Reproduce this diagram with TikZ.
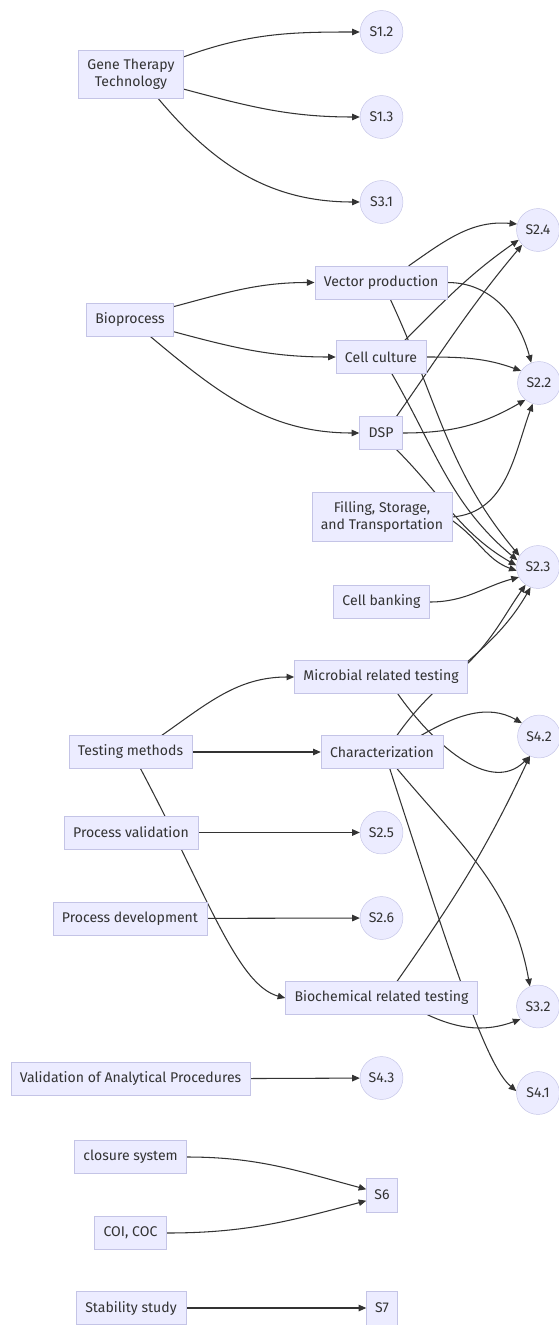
\documentclass[tikz,border=0pt]{standalone}
\usepackage{fontspec}
\setmainfont{Fira Sans}
\usetikzlibrary{arrows.meta}
\definecolor{boxfill}{HTML}{ECECFF}
\definecolor{boxline}{HTML}{C4C4E6}
\definecolor{ink}{HTML}{333333}
\pgfdeclarelayer{bg}
\pgfsetlayers{bg,main}

\begin{document}
\begin{tikzpicture}[x=0.03cm, y=0.03cm,
    topic/.style = {draw=boxline, fill=boxfill, text=ink, inner sep=7.7pt, minimum height=28pt, font=\fontsize{12}{14.2}\selectfont, align=center},
    sect/.style = {circle, draw=boxline, fill=boxfill, text=ink, inner sep=0pt, minimum size=36.6pt, font=\fontsize{12}{14.2}\selectfont},
    part/.style = {topic, inner xsep=6pt, minimum width=26.4pt, minimum height=29pt},
    link/.style = {draw=ink, line width=0.9pt, -{Triangle[length=6.5pt, width=5.5pt]}},
  ]
  \useasboundingbox (0,0) rectangle (558,-1325);

  % left column
  \node[topic] (gtt) at (131,-74) {Gene Therapy\\Technology};
  \node[topic] (bio) at (130,-320) {Bioprocess};
  \node[topic] (tm) at (130.5,-752) {Testing methods};
  \node[topic] (pv) at (131,-832.5) {Process validation};
  \node[topic] (pd) at (130,-918.5) {Process development};
  \node[topic] (vap) at (130.5,-1079) {Validation of Analytical Procedures};
  \node[topic] (cs) at (130.5,-1157) {closure system};
  \node[topic] (coi) at (130.5,-1233) {COI, COC};
  \node[topic] (ss) at (131,-1308) {Stability study};

  % middle column
  \node[sect] (s12) at (381.5,-32) {S1.2};
  \node[sect] (s13) at (381.5,-117) {S1.3};
  \node[sect] (s31) at (381.5,-202) {S3.1};
  \node[topic] (vp) at (381,-282.5) {Vector production};
  \node[topic] (cc) at (381,-357) {Cell culture};
  \node[topic] (dsp) at (381,-433) {DSP};
  \node[topic] (fst) at (382,-517) {Filling, Storage,\\and Transportation};
  \node[topic] (cb) at (381.5,-602) {Cell banking};
  \node[topic] (mrt) at (381,-677) {Microbial related testing};
  \node[topic] (chr) at (382,-752) {Characterization};
  \node[sect] (s25) at (381.5,-832.5) {S2.5};
  \node[sect] (s26) at (381.5,-918) {S2.6};
  \node[topic] (brt) at (381.5,-998) {Biochemical related testing};
  \node[sect] (s43) at (381.5,-1078) {S4.3};
  \node[part] (s6) at (382,-1195) {S6};
  \node[part] (s7) at (382,-1308) {S7};

  % right column
  \node[sect] (s24) at (538,-230) {S2.4};
  \node[sect] (s22) at (539,-383) {S2.2};
  \node[sect] (s23) at (538,-567) {S2.3};
  \node[sect] (s42) at (539,-736.5) {S4.2};
  \node[sect] (s32) at (538,-1006.5) {S3.2};
  \node[sect] (s41) at (538,-1093) {S4.1};

  \begin{pgfonlayer}{bg}
    \draw[link] (gtt.18) to[out=20, in=180] (s12);
    \draw[link] (gtt.-16) to[out=-15, in=180] (s13);
    \draw[link] (gtt.-42) to[out=-50, in=180] (s31);
    \draw[link] (bio.17) to[out=15, in=180] (vp);
    \draw[link] (bio.-15) to[out=-15, in=180] (cc);
    \draw[link] (bio.-39) to[out=-40, in=180] (dsp);
    \draw[link] (vp.31) to[out=35, in=175] (s24.164);
    \draw[link] (vp.east) to[out=0, in=105] (s22.111);
    \draw[link] (vp.-61) to[out=-65, in=130] (s23.149);
    \draw[link] (cc.35) to[out=45, in=215] (s24.207);
    \draw[link] (cc.east) to[out=0, in=160] (s22.146);
    \draw[link] (cc.-57) to[out=-60, in=140] (s23.162);
    \draw[link] (dsp.47) to[out=55, in=230] (s24.223);
    \draw[link] (dsp.east) to[out=0, in=210] (s22.231);
    \draw[link] (dsp.-47) to[out=-45, in=150] (s23.176);
    \draw[link] (fst.east) to[out=5, in=250] (s22.253);
    \draw[link] (fst.-3) to[out=-35, in=160] (s23.190);
    \draw[link] (cb.east) to[out=0, in=195] (s23.208);
    \draw[link] (mrt.9) to[out=45, in=235] (s23.235);
    \draw[link] (mrt.-45) to[out=-55, in=225] (s42.245);
    \draw[link] (tm.28) to[out=35, in=180] (mrt.west);
    \draw[link] (tm) -- (chr);
    \draw[link] (tm.-59) .. controls +(-62:140) and +(165:50) .. (brt.west);
    \draw[link] (chr.48) to[out=55, in=240] (s23.250);
    \draw[link] (chr.23) to[out=30, in=150] (s42.142);
    \draw[link] (chr.-48) to[out=-50, in=100] (s32.112);
    \draw[link] (chr.-65) .. controls +(-72:200) and +(140:40) .. (s41.175);
    \draw[link] (brt.47) to[out=55, in=245] (s42.245);
    \draw[link] (brt.-20) to[out=-25, in=200] (s32.216);
    \draw[link] (pv) -- (s25);
    \draw[link] (pd) -- (s26);
    \draw[link] (vap) -- (s43);
    \draw[link] (cs.east) to[out=0, in=165] (s6.160);
    \draw[link] (coi.east) to[out=0, in=195] (s6.200);
    \draw[link] (ss) -- (s7);
  \end{pgfonlayer}
\end{tikzpicture}
\end{document}
